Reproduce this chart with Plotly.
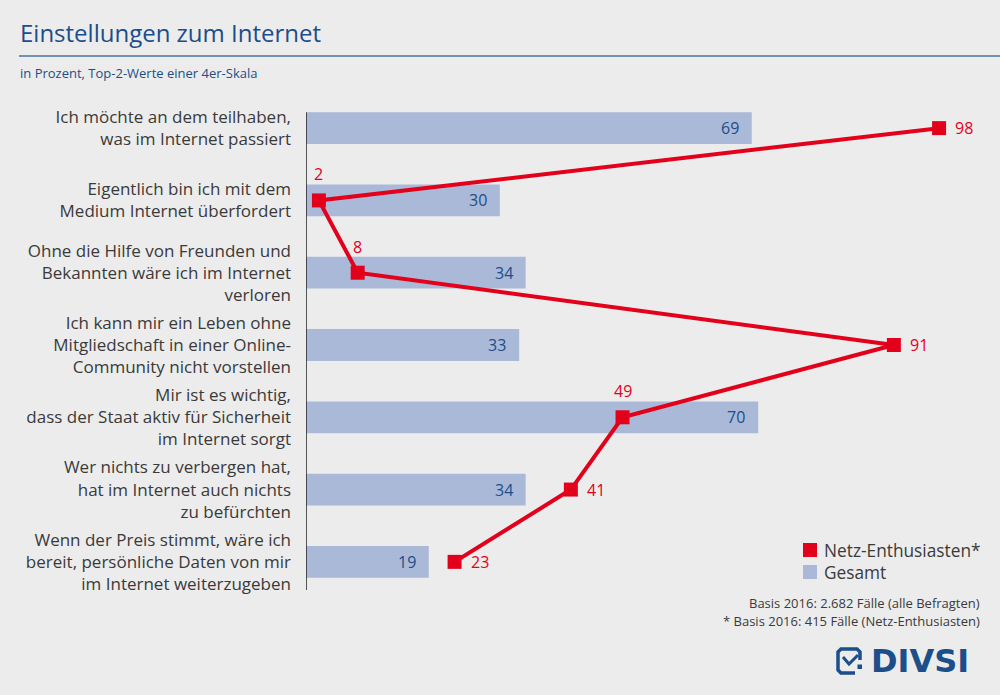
import plotly.graph_objects as go

# ================== DATA ==================
categories = [
    "Ich möchte an dem teilhaben,<br>was im Internet passiert",
    "Eigentlich bin ich mit dem<br>Medium Internet überfordert",
    "Ohne die Hilfe von Freunden und<br>Bekannten wäre ich im Internet<br>verloren",
    "Ich kann mir ein Leben ohne<br>Mitgliedschaft in einer Online-<br>Community nicht vorstellen",
    "Mir ist es wichtig,<br>dass der Staat aktiv für Sicherheit<br>im Internet sorgt",
    "Wer nichts zu verbergen hat,<br>hat im Internet auch nichts<br>zu befürchten",
    "Wenn der Preis stimmt, wäre ich<br>bereit, persönliche Daten von mir<br>im Internet weiterzugeben",
]
gesamt = [69, 30, 34, 33, 70, 34, 19]
enthusiasten = [98, 2, 8, 91, 49, 41, 23]
enth_label_above = [False, True, True, False, True, False, False]

series_names = ["Netz-Enthusiasten*", "Gesamt"]
title = "Einstellungen zum Internet"
subtitle = "in Prozent, Top-2-Werte einer 4er-Skala"
footnotes = ["Basis 2016: 2.682 Fälle (alle Befragten)",
             "* Basis 2016: 415 Fälle (Netz-Enthusiasten)"]

# ================== STYLE ==================
W, H = 1000, 695
BG = "#ececec"
RED = "#e2001a"
BAR = "#aab9d7"
BLUE = "#1b4e8a"
GREY = "#3a3a3a"
FONT = "Open Sans"

L, R, T, B = 306, 48, 92, 97
PW, PH = W - L - R, H - T - B


def px(x, y):
    # pixel position -> paper coords
    return (x - L) / PW, (H - B - y) / PH


ypos = list(range(len(categories)))

fig = go.Figure()
fig.add_trace(go.Bar(
    x=gesamt, y=ypos, orientation="h", width=0.44,
    marker=dict(color=BAR, line=dict(width=0)),
    name=series_names[1], showlegend=False, hoverinfo="x",
))
fig.add_trace(go.Scatter(
    x=enthusiasten, y=ypos, mode="lines+markers",
    line=dict(color=RED, width=4),
    marker=dict(symbol="square", size=14, color=RED),
    name=series_names[0], showlegend=False, cliponaxis=False,
))

# value labels
for v, y in zip(gesamt, ypos):
    fig.add_annotation(x=v, y=y, text=str(v), xanchor="right", yanchor="middle",
                       xshift=-11, showarrow=False,
                       font=dict(color=BLUE, size=16, family=FONT))
for v, y, above in zip(enthusiasten, ypos, enth_label_above):
    if above:
        fig.add_annotation(x=v, y=y, text=str(v), xanchor="center", yanchor="middle",
                           yshift=26, showarrow=False,
                           font=dict(color=RED, size=16, family=FONT))
    else:
        fig.add_annotation(x=v, y=y, text=str(v), xanchor="left", yanchor="middle",
                           xshift=14, showarrow=False,
                           font=dict(color=RED, size=16, family=FONT))

# axis line
fig.add_shape(type="line", xref="x", yref="y", x0=0, x1=0, y0=-0.22, y1=6.39,
              line=dict(color="#222222", width=1.5))

# title + rule
fig.add_annotation(text=title, xref="paper", yref="paper", x=px(18, 0)[0], y=px(0, 32)[1],
                   xanchor="left", yanchor="middle", showarrow=False,
                   font=dict(size=24, color=BLUE, family=FONT))
x0, y0 = px(19, 56)
x1, _ = px(1000, 56)
fig.add_shape(type="line", xref="paper", yref="paper", x0=x0, x1=x1, y0=y0, y1=y0,
              line=dict(color="#4a74a2", width=1.5))
fig.add_annotation(text=subtitle, xref="paper", yref="paper", x=px(18, 0)[0], y=px(0, 73)[1],
                   xanchor="left", yanchor="middle", showarrow=False,
                   font=dict(size=13, color=BLUE, family=FONT))

# legend
for i, (name, col) in enumerate(zip(series_names, [RED, BAR])):
    cy = 550 + i * 22
    a0, b0 = px(803, cy - 7)
    a1, b1 = px(817, cy + 7)
    fig.add_shape(type="rect", xref="paper", yref="paper", x0=a0, x1=a1, y0=b1, y1=b0,
                  fillcolor=col, line=dict(width=0))
    fig.add_annotation(text=name, xref="paper", yref="paper", x=px(822, 0)[0], y=px(0, cy)[1],
                       xanchor="left", yanchor="middle", showarrow=False,
                       font=dict(size=17.3, color=GREY, family=FONT))

# footnotes
for i, t in enumerate(footnotes):
    fig.add_annotation(text=t, xref="paper", yref="paper", x=px(982, 0)[0], y=px(0, 603 + i * 18)[1],
                       xanchor="right", yanchor="middle", showarrow=False,
                       font=dict(size=13, color=GREY, family=FONT))

# logo
def pth(points):
    s = ""
    for cmd, x, y in points:
        a, b = px(x, y)
        s += f"{cmd}{a:.5f},{b:.5f} "
    return s

icon = pth([("M", 860, 660), ("L", 860, 652), ("L", 857, 649), ("L", 841, 649), ("L", 838, 652),
            ("L", 838, 670), ("L", 841, 673), ("L", 855, 673)])
fig.add_shape(type="path", xref="paper", yref="paper", path=icon,
              line=dict(color=BLUE, width=3.5))
check = pth([("M", 843, 657), ("L", 849, 664), ("L", 858, 655)])
fig.add_shape(type="path", xref="paper", yref="paper", path=check,
              line=dict(color=BLUE, width=3))
d0, e0 = px(857.5, 664.5)
d1, e1 = px(862, 669)
fig.add_shape(type="rect", xref="paper", yref="paper", x0=d0, x1=d1, y0=e1, y1=e0,
              fillcolor=BLUE, line=dict(width=0))
fig.add_annotation(text="<b>DIVSI</b>", xref="paper", yref="paper", x=px(869, 0)[0], y=px(0, 661)[1],
                   xanchor="left", yanchor="middle", showarrow=False,
                   font=dict(size=32, color=BLUE, family="DejaVu Sans"))

fig.update_layout(
    width=W, height=H, margin=dict(l=L, r=R, t=T, b=B),
    paper_bgcolor=BG, plot_bgcolor=BG,
    font=dict(family=FONT, color=GREY),
    xaxis=dict(range=[0, 100], visible=False, fixedrange=True),
    yaxis=dict(range=[6.5, -0.5], tickvals=ypos, ticktext=categories, fixedrange=True,
               showgrid=False, zeroline=False, showline=False, ticks="",
               ticklabelstandoff=14, tickfont=dict(size=17, color=GREY, family=FONT)),
    showlegend=False,
)

fig.write_html("out.html", config={"displayModeBar": False},
               post_script="document.body.style.margin='0';")
